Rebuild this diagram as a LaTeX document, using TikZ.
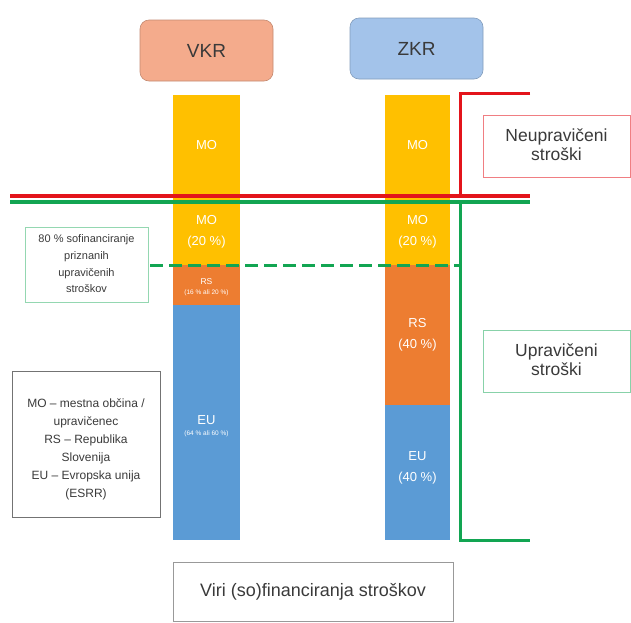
\documentclass[tikz,border=0pt]{standalone}
\usepackage{fontspec}
\setmainfont{Liberation Sans}
\definecolor{mocol}{HTML}{FFC000}
\definecolor{rscol}{HTML}{ED7D31}
\definecolor{eucol}{HTML}{5B9BD5}
\definecolor{vkrcol}{HTML}{F4AB8C}
\definecolor{zkrcol}{HTML}{A3C3EA}
\definecolor{redline}{HTML}{E3141B}
\definecolor{greenline}{HTML}{12A552}
\definecolor{txtcol}{HTML}{3A3A3A}
\begin{document}
\begin{tikzpicture}[x=1pt,y=-1pt,
		colbox/.style={rounded corners=9pt,line width=0.6pt},
		seglbl/.style={text=white,align=center,font=\fontsize{13}{21}\selectfont},
		infobox/.style={line width=0.6pt},
		infotxt/.style={text=txtcol,align=center}]
				\useasboundingbox (0,0) rectangle (631,622);
				% region boxes
				\draw[colbox,fill=vkrcol,draw=vkrcol!80!black] (140,20) rectangle (273,81);
				\draw[colbox,fill=zkrcol,draw=zkrcol!80!black] (350,18) rectangle (483,79);
				\node[infotxt,font=\fontsize{19}{22}\selectfont] (vkr) at (206.5,51) {VKR};
				\node[infotxt,font=\fontsize{19}{22}\selectfont] (zkr) at (416.5,49) {ZKR};
				% columns
				\fill[mocol] (173,95) rectangle (240,265);
				\fill[rscol] (173,265) rectangle (240,305);
				\fill[eucol] (173,305) rectangle (240,540);
				\fill[mocol] (385,95) rectangle (450,265);
				\fill[rscol] (385,265) rectangle (450,405);
				\fill[eucol] (385,405) rectangle (450,540);
				\node[seglbl] (vkrmo) at (206.5,145) {MO};
				\node[seglbl] (vkrmob) at (206.5,232) {MO\\(20 \%)};
				\node[seglbl,font=\fontsize{8.5}{11}\selectfont] (vkrrs) at (206.5,287) {RS\\[-1pt]{\fontsize{6.5}{8}\selectfont(16 \% ali 20 \%)}};
				\node[seglbl,font=\fontsize{13}{13}\selectfont] (vkreu) at (206.5,426) {EU\\[-2pt]{\fontsize{6.5}{8}\selectfont(64 \% ali 60 \%)}};
				\node[seglbl] (zkrmo) at (417.5,145) {MO};
				\node[seglbl] (zkrmob) at (417.5,232) {MO\\(20 \%)};
				\node[seglbl] (zkrrs) at (417.5,335) {RS\\(40 \%)};
				\node[seglbl] (zkreu) at (417.5,468) {EU\\(40 \%)};
				% limits
				\coordinate (L1) at (10,196);
				\coordinate (R1) at (530,196);
				\coordinate (L2) at (10,201.5);
				\coordinate (R2) at (530,201.5);
				\coordinate (RT) at (460,93);
				\coordinate (GB) at (460,540);
				\draw[redline,line width=4.5pt] (L1) -- (R1);
				\draw[greenline,line width=4pt] (L2) -- (R2);
				\draw[redline,line width=3pt] (530,93) -- (RT) -- (460,197);
				\draw[greenline,line width=3pt] (460,201) -- (GB) -- (530,540);
				\draw[greenline,line width=3pt,dash pattern=on 13pt off 6pt] (150,265) -- (460,265);
				% text boxes
				\draw[infobox,draw=redline!55] (483,115) rectangle (630,177);
				\node[infotxt,font=\fontsize{17.5}{19}\selectfont] (neup) at (556.5,145) {Neupravičeni\\stroški};
				\draw[infobox,draw=greenline!50] (483,330) rectangle (630,392);
				\node[infotxt,font=\fontsize{17.5}{19}\selectfont] (uprav) at (556.5,360) {Upravičeni\\stroški};
				\draw[infobox,draw=greenline!45] (25,227) rectangle (148,302);
				\node[infotxt,font=\fontsize{11}{16.7}\selectfont] (sofin) at (86.5,264) {80 \% sofinanciranje\\priznanih\\upravičenih\\stroškov};
				\draw[infobox,draw=black!55] (12,371) rectangle (160,517);
				\node[infotxt,font=\fontsize{12}{18}\selectfont] (legend) at (86,449) {MO – mestna občina /\\upravičenec\\RS – Republika\\Slovenija\\EU – Evropska unija\\(ESRR)};
				\draw[infobox,draw=black!40] (173,562) rectangle (453,621);
				\node[infotxt,font=\fontsize{18}{20}\selectfont] (viri) at (313,592) {Viri (so)financiranja stroškov};
			\end{tikzpicture}
\end{document}
